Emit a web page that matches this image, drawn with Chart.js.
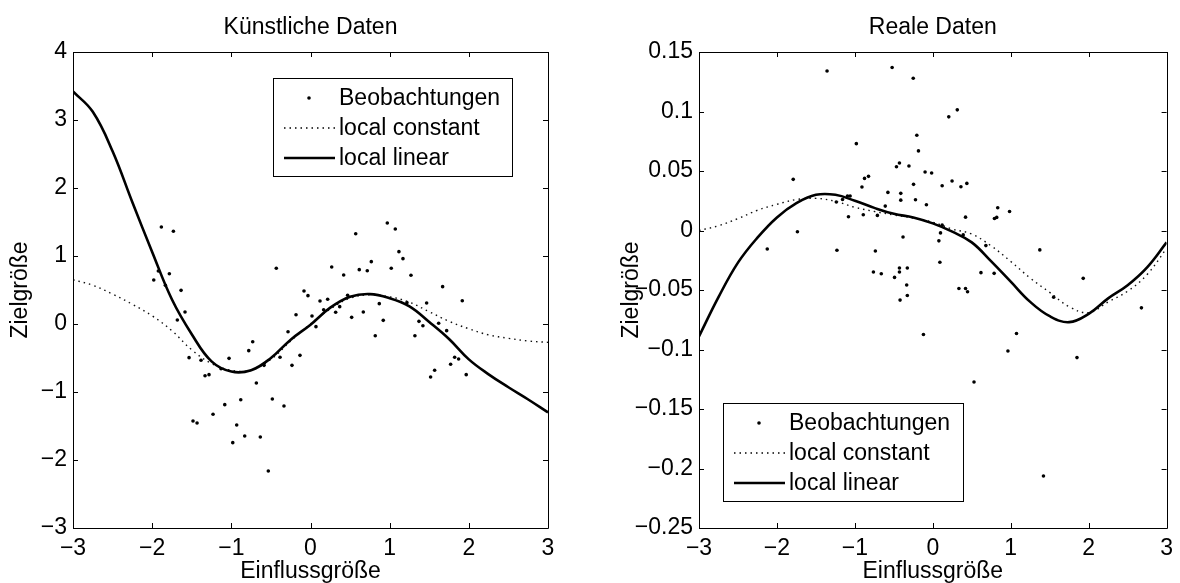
<!DOCTYPE html>
<html>
<head>
<meta charset="utf-8">
<script src="https://cdn.jsdelivr.net/npm/chart.js@4.4.1/dist/chart.umd.min.js"></script>
<style>
  body { margin: 0; background: #fff; }
  #wrap { position: relative; width: 1180px; height: 583px; }
  canvas { position: absolute; top: 0; }
  #chartTrai { left: 0; }
  #chartPhai { left: 590px; }
</style>
</head>
<body>
<div id="wrap">
  <canvas id="chartTrai" width="590" height="583"></canvas>
  <canvas id="chartPhai" width="590" height="583"></canvas>
</div>
<script>
// du lieu doc tu hinh
const gridX = [-3, -2.75, -2.5, -2.25, -2, -1.75, -1.5, -1.25, -1, -0.75, -0.5, -0.25, 0,
  0.25, 0.5, 0.75, 1, 1.25, 1.5, 1.75, 2, 2.25, 2.5, 2.75, 3];

// Kuenstliche Daten
const obsX_trai = [-1.884, -1.732, -1.922, -1.98, -1.783, -1.833, -1.635, -1.585, -1.682, -1.534,
  -1.383, -1.332, -1.282, -1.13, -1.029, -0.78, -0.73, -0.432, -0.684, -0.881,
  -1.083, -1.231, -1.484, -1.433, -0.932, -0.831, -0.982, -0.634, -0.533, -0.482,
  -0.335, -0.385, -0.587, -0.234, -0.133, -0.284, -0.183, -0.082, -0.032,
  0.019, 0.069, 0.12, 0.166, 0.217, 0.268, 0.318, 0.369, 0.419, 0.469,
  0.52, 0.571, 0.616, 0.667, 0.717, 0.768, 0.818, 0.869, 0.919, 0.97,
  1.02, 1.071, 1.117, 1.168, 1.218, 1.269, 1.319, 1.37, 1.42, 1.467,
  1.619, 1.669, 1.72, 1.77, 1.821, 1.871, 1.917, 1.967, 1.517, 1.568];
const obsY_trai = [1.426, 1.363, 0.779, 0.647, 0.74, 0.569, 0.495, 0.176, 0.059, -0.495,
  -0.534, -0.76, -0.745, -0.657, -0.505, -0.392, -0.26, 0.819, -0.868, -1.113,
  -1.186, -1.328, -1.426, -1.456, -1.485, -1.647, -1.745, -1.662, -2.162, -1.103,
  -1.206, -0.49, -0.608, -0.608, -0.461, -0.113, 0.137, 0.485, 0.417,
  0.118, -0.039, 0.338, 0.21, 0.363, 0.838, 0.172, 0.255, 0.721, 0.422,
  0.098, 1.328, 0.799, 0.176, 0.784, 0.917, -0.172, 0.299, 0.054, 1.485,
  0.819, 1.397, 1.064, 0.961, 0.314, 0.716, -0.172, 0.039, -0.025, 0.309,
  0.01, 0.549, -0.098, -0.593, -0.49, -0.515, 0.343, -0.745, -0.779, -0.681];
const constY_trai = [0.65, 0.57, 0.44, 0.29, 0.12, -0.10, -0.38, -0.58, -0.68, -0.68, -0.52, -0.25, 0.0,
  0.22, 0.38, 0.43, 0.40, 0.32, 0.18, 0.04, -0.07, -0.16, -0.21, -0.25, -0.27];
const linY_trai = [3.42, 3.12, 2.54, 1.79, 1.06, 0.36, -0.15, -0.55, -0.70, -0.68, -0.50, -0.23, -0.01,
  0.24, 0.40, 0.44, 0.38, 0.26, 0.03, -0.22, -0.52, -0.74, -0.93, -1.11, -1.30];

// Reale Daten
const obsX_phai = [-1.357, -1.791, -1.737, -2.124, -1.23, -0.981, -1.082, -1.095, -1.061, -1.158,
  -1.238, -0.909, -0.876, -0.825, -0.892, -0.711, -0.61, -0.576, -0.737, -0.762,
  -0.661, -0.491, -0.428, -0.428, -0.327, -0.335, -0.327, -0.382, -0.522, -0.251,
  -0.466, -0.428, -0.306, -0.247, -0.411, -0.411, -0.222, -0.205, -0.184, -0.099,
  -0.015, -0.082, 0.12, 0.247, 0.361, 0.437, 0.205, 0.314, 0.12, 0.099,
  0.078, 0.091, 0.39, 0.42, 0.681, 0.791, 0.82, 0.833, 0.985, 1.373,
  0.618, 0.787, 1.93, 0.335, 0.42, 0.446, 1.551, -0.42, -0.12, 0.529,
  0.964, 1.074, 1.85, 2.677, 1.42];
const obsY_phai = [0.134, 0.043, -0.001, -0.0155, -0.0166, 0.073, 0.0115, 0.029, 0.029, 0.026,
  0.024, 0.0365, 0.0438, 0.0455, 0.0132, 0.0127, 0.0205, 0.032, -0.0172, -0.0349,
  -0.0363, -0.0394, -0.0349, -0.0315, -0.0315, -0.0458, -0.0546, -0.0054, 0.137, 0.128,
  0.0536, 0.0567, 0.0542, 0.0388, 0.0312, 0.0255, 0.0258, 0.080, 0.0669, 0.0492,
  0.0483, 0.0216, 0.0376, 0.0416, 0.0368, 0.0396, 0.0955, 0.1014, 0.0045, -0.002,
  -0.0087, -0.0267, -0.0037, 0.0112, -0.0127, 0.0101, 0.011, 0.0191, 0.016, -0.0163,
  -0.0354, -0.036, -0.0402, -0.0487, -0.0487, -0.0515, -0.056, -0.0585, -0.0874, -0.1273,
  -0.1012, -0.0866, -0.1068, -0.065, -0.2063];
const constY_phai = [0.000, 0.004, 0.010, 0.017, 0.022, 0.026, 0.027, 0.0245, 0.0195, 0.016, 0.013, 0.0105, 0.007,
  0.0012, -0.003, -0.013, -0.026, -0.040, -0.052, -0.064, -0.069, -0.060, -0.051, -0.037, -0.015];
const linY_phai = [-0.089, -0.056, -0.027, -0.006, 0.011, 0.023, 0.030, 0.030, 0.025, 0.019, 0.014, 0.011, 0.006,
  -0.001, -0.010, -0.026, -0.043, -0.060, -0.072, -0.077, -0.070, -0.057, -0.046, -0.031, -0.010];

const legendNames = ["Beobachtungen", "local constant", "local linear"];

Chart.defaults.font.family = "'Liberation Sans', Arial, Helvetica, sans-serif";
Chart.defaults.color = "#000";

const FONT = { size: 23, weight: "normal" };

function nhan(v) {
  let r = Math.round(v * 100) / 100;
  if (r === 0) return "0";
  return String(r).replace("-", "\u2212");
}

function toXY(xs, ys) {
  return xs.map(function (x, i) { return { x: x, y: ys[i] }; });
}

// khung, vach chia huong vao trong, chu giai
const khung = {
  id: "khung",
  afterDraw: function (chart, args, opts) {
    const ctx = chart.ctx;
    const a = chart.chartArea;
    const sx = chart.scales.x, sy = chart.scales.y;
    ctx.save();
    ctx.strokeStyle = "#000";
    ctx.lineWidth = 1;
    ctx.beginPath();
    ctx.rect(Math.round(a.left) + 0.5, Math.round(a.top) + 0.5,
      Math.round(a.right - a.left), Math.round(a.bottom - a.top));
    sx.ticks.forEach(function (t) {
      const p = Math.round(sx.getPixelForValue(t.value)) + 0.5;
      ctx.moveTo(p, a.bottom); ctx.lineTo(p, a.bottom - 5);
      ctx.moveTo(p, a.top); ctx.lineTo(p, a.top + 5);
    });
    sy.ticks.forEach(function (t) {
      const p = Math.round(sy.getPixelForValue(t.value)) + 0.5;
      ctx.moveTo(a.left, p); ctx.lineTo(a.left + 5, p);
      ctx.moveTo(a.right, p); ctx.lineTo(a.right - 5, p);
    });
    ctx.stroke();

    // chu giai
    const L = opts.box;
    ctx.fillStyle = "#fff";
    ctx.fillRect(L.x, L.y, L.w, L.h);
    ctx.strokeRect(L.x + 0.5, L.y + 0.5, L.w, L.h);
    ctx.font = FONT.size + "px " + Chart.defaults.font.family;
    ctx.textBaseline = "middle";
    ctx.textAlign = "left";
    ctx.fillStyle = "#000";
    for (let i = 0; i < 3; i++) {
      const y = L.y + 20 + i * 30;
      ctx.fillText(legendNames[i], L.x + 66, y + 1);
      ctx.beginPath();
      if (i === 0) {
        ctx.arc(L.x + 36, y, 1.8, 0, Math.PI * 2);
        ctx.fill();
      } else if (i === 1) {
        ctx.setLineDash([1.5, 4]);
        ctx.lineWidth = 1.4;
        ctx.moveTo(L.x + 11, y); ctx.lineTo(L.x + 62, y);
        ctx.stroke();
        ctx.setLineDash([]);
      } else {
        ctx.lineWidth = 2.6;
        ctx.moveTo(L.x + 11, y); ctx.lineTo(L.x + 62, y);
        ctx.stroke();
      }
    }
    ctx.restore();
  }
};

function makeChart(id, title, obsX, obsY, constY, linY, yMin, yMax, yStep, yWidth, yTitlePad, box, padRight) {
  return new Chart(id, {
    type: "scatter",
    data: {
      datasets: [
        {
          label: legendNames[0],
          data: toXY(obsX, obsY),
          pointRadius: 1.8,
          pointBorderWidth: 0,
          pointBackgroundColor: "#000",
          order: 3
        },
        {
          type: "line",
          label: legendNames[1],
          data: toXY(gridX, constY),
          borderColor: "#111",
          borderWidth: 1.4,
          borderDash: [1.5, 4],
          pointRadius: 0,
          tension: 0.4,
          fill: false,
          order: 2
        },
        {
          type: "line",
          label: legendNames[2],
          data: toXY(gridX, linY),
          borderColor: "#000",
          borderWidth: 2.6,
          pointRadius: 0,
          tension: 0.4,
          fill: false,
          order: 1
        }
      ]
    },
    options: {
      responsive: false,
      animation: false,
      devicePixelRatio: 1,
      layout: { padding: { left: 0, top: 0, right: padRight, bottom: 0 } },
      plugins: {
        legend: { display: false },
        tooltip: { enabled: false },
        title: {
          display: true,
          text: title,
          fullSize: false,
          color: "#000",
          font: FONT,
          padding: { top: 14, bottom: 10.4 }
        },
        khung: { box: box }
      },
      scales: {
        x: {
          type: "linear",
          min: -3, max: 3,
          grid: { display: false, drawTicks: false },
          border: { display: false },
          ticks: { stepSize: 1, padding: 7, font: FONT, color: "#000", maxRotation: 0, callback: nhan },
          title: { display: true, text: "Einflussgröße", font: { size: 23, weight: "normal", lineHeight: 1 }, color: "#000", padding: { top: 0, bottom: 0 } },
          afterFit: function (s) { s.height = 55; }
        },
        y: {
          type: "linear",
          min: yMin, max: yMax,
          grid: { display: false, drawTicks: false },
          border: { display: false },
          ticks: { stepSize: yStep, padding: 6, font: FONT, color: "#000", callback: nhan },
          title: { display: true, text: "Zielgröße", font: { size: 23, weight: "normal", lineHeight: 1.2 }, color: "#000", padding: { top: yTitlePad, bottom: 0 } },
          afterFit: function (s) { s.width = yWidth; }
        }
      }
    },
    plugins: [khung]
  });
}

const chart_trai = makeChart("chartTrai", "Künstliche Daten", obsX_trai, obsY_trai, constY_trai, linY_trai,
  -3, 4, 1, 73, 7, { x: 273, y: 78, w: 239, h: 98 }, 42);

const chart_phai = makeChart("chartPhai", "Reale Daten", obsX_phai, obsY_phai, constY_phai, linY_phai,
  -0.25, 0.15, 0.05, 109, 28, { x: 133, y: 403, w: 240, h: 98 }, 6.5);
</script>
</body>
</html>
